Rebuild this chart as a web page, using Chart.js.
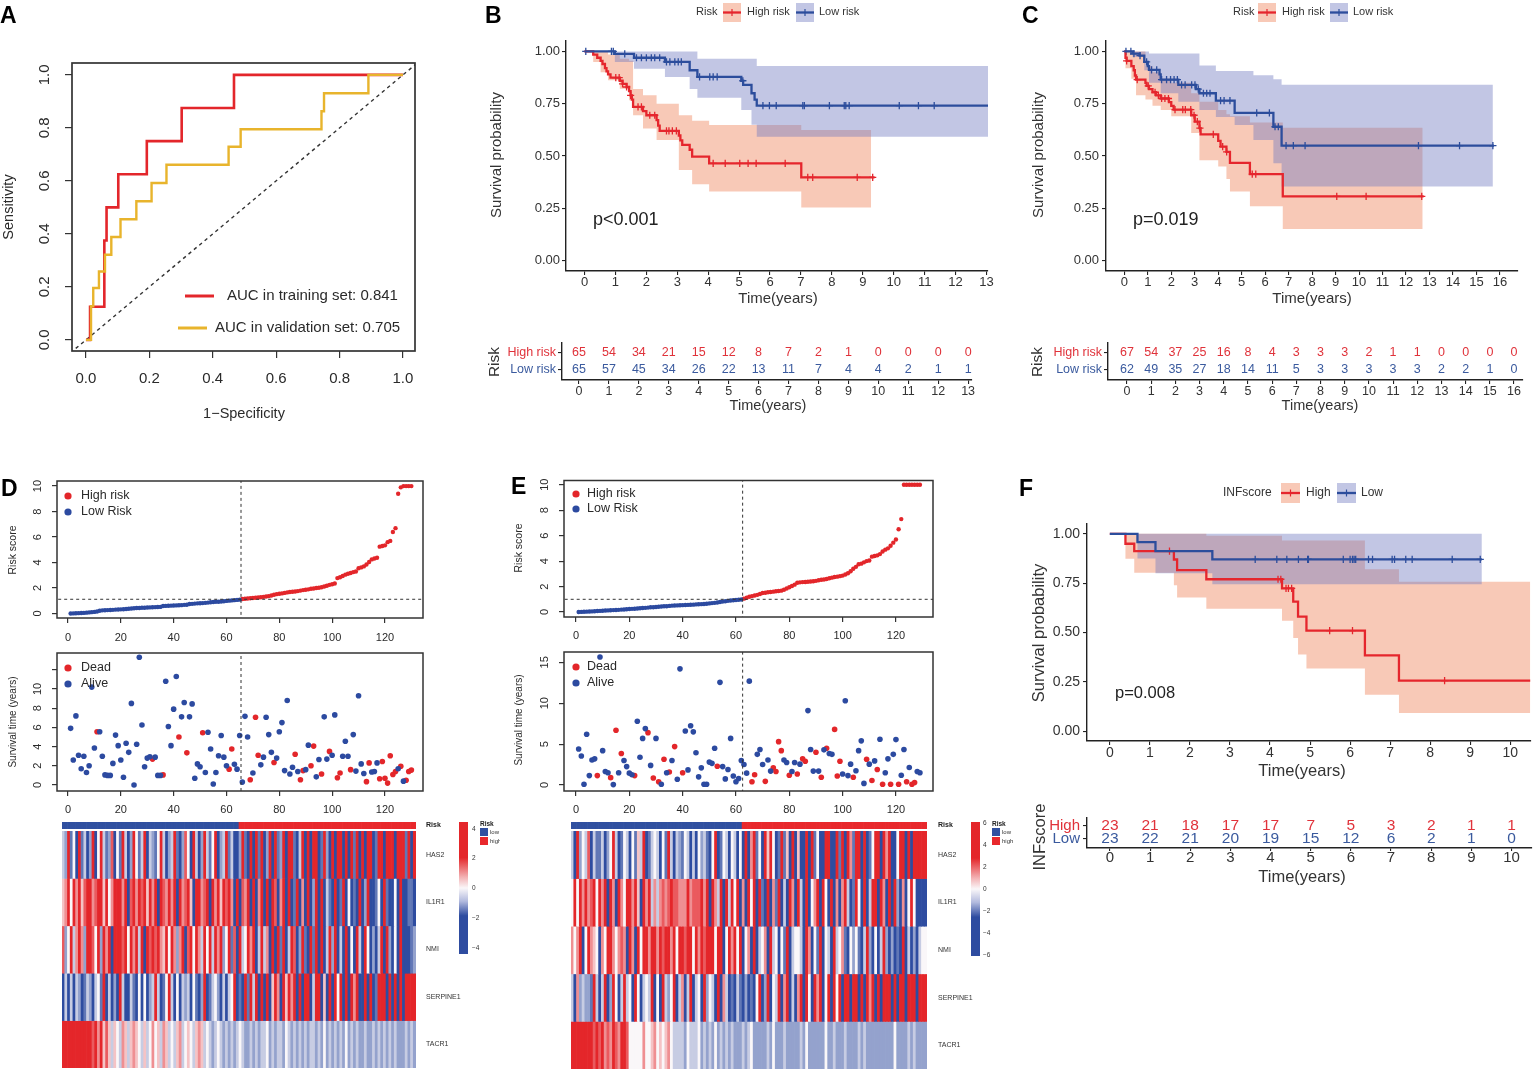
<!DOCTYPE html>
<html><head><meta charset="utf-8">
<script src="https://cdn.jsdelivr.net/npm/chart.js@4.4.1/dist/chart.umd.min.js"></script>
<style>
html,body{margin:0;padding:0;background:#fff;}
#page{position:relative;width:1536px;height:1077px;overflow:hidden;background:#fff;}
</style></head>
<body><div id="page"></div>
<script>
// ================= DATA =================
// ---- A: ROC ----
const rocTicks = [0, 0.2, 0.4, 0.6, 0.8, 1.0];
const rocTrainX = [0,0.013,0.013,0.058,0.058,0.065,0.065,0.102,0.102,0.192,0.192,0.302,0.302,0.467,0.467,1];
const rocTrainY = [0,0,0.125,0.125,0.375,0.375,0.5,0.5,0.625,0.625,0.75,0.75,0.875,0.875,1,1];
const rocValX = [0,0.016,0.016,0.023,0.023,0.041,0.041,0.06,0.06,0.08,0.08,0.109,0.109,0.159,0.159,0.207,0.207,0.254,0.254,0.45,0.45,0.488,0.488,0.743,0.743,0.751,0.751,0.891,0.891,1];
const rocValY = [0,0,0.127,0.127,0.196,0.196,0.258,0.258,0.321,0.321,0.388,0.388,0.455,0.455,0.523,0.523,0.592,0.592,0.661,0.661,0.729,0.729,0.795,0.795,0.863,0.863,0.931,0.931,1,1];
const rocDiag = [-0.1, 1.1];
const aucLabels = ['AUC in training set: 0.841', 'AUC in validation set: 0.705'];

// ---- common KM ----
const survTicks = [0, 0.25, 0.5, 0.75, 1];
const groupLabels = ['High risk', 'Low risk'];

// ---- B: training KM ----
const yearsB = [0,1,2,3,4,5,6,7,8,9,10,11,12,13];
const bHighT = [0,0.28,0.41,0.52,0.58,0.66,0.71,0.76,0.84,1.14,1.23,1.36,1.44,1.49,1.53,1.57,1.89,2.0,2.33,2.38,2.43,3.05,3.1,3.16,3.4,3.48,4.03,7.01,9.38];
const bHighS = [1,0.985,0.97,0.955,0.94,0.92,0.905,0.89,0.875,0.86,0.845,0.83,0.81,0.79,0.77,0.735,0.715,0.695,0.672,0.645,0.62,0.598,0.575,0.553,0.53,0.497,0.465,0.398,0.398];
const bHighCens = [1.01,1.12,1.23,1.36,1.49,1.73,1.84,2.11,2.27,2.65,2.73,2.84,2.97,4.16,4.55,5.02,5.29,5.55,6.49,7.22,7.38,8.82,9.32];
const bHighBandT = [0,0.28,0.52,0.76,1.14,1.44,1.57,1.89,2.33,3.05,3.48,4.03,7.01,9.27];
const bHighUp = [1,1,1,0.985,0.965,0.955,0.82,0.79,0.75,0.695,0.668,0.648,0.624,0.624];
const bHighLo = [1,0.95,0.9,0.862,0.822,0.767,0.695,0.632,0.576,0.433,0.365,0.33,0.254,0.254];
const bLowT = [0,0.98,1.6,2.6,3.4,3.65,5.07,5.13,5.4,5.5,5.57,13.05];
const bLowS = [1,0.988,0.97,0.95,0.91,0.878,0.86,0.84,0.80,0.77,0.741,0.741];
const bLowCens = [0.04,0.87,0.93,1.3,1.68,1.84,2.0,2.16,2.27,2.43,2.65,2.76,2.92,3.03,3.13,3.72,4.05,4.16,4.29,5.12,5.77,5.98,6.2,7.06,7.11,7.92,8.4,8.45,8.56,10.18,10.8,11.31];
const bLowBandT = [0,0.98,1.6,2.6,3.4,3.65,5.07,5.4,5.57,13.05];
const bLowUp = [1,1,1,1,1,0.965,0.965,0.965,0.93,0.93];
const bLowLo = [1,0.95,0.917,0.878,0.82,0.778,0.72,0.65,0.592,0.592];
const bTabHigh = [65,54,34,21,15,12,8,7,2,1,0,0,0,0];
const bTabLow = [65,57,45,34,26,22,13,11,7,4,4,2,1,1];

// ---- C: validation KM ----
const yearsC = [0,1,2,3,4,5,6,7,8,9,10,11,12,13,14,15,16];
const cHighT = [0,0.05,0.1,0.3,0.4,0.45,0.5,0.9,0.95,1.05,1.2,1.35,1.55,1.9,2.0,2.1,2.85,3.0,3.2,3.25,4.0,4.1,4.35,4.5,5.35,6.75,12.75];
const cHighS = [1,0.97,0.955,0.93,0.91,0.885,0.865,0.85,0.835,0.82,0.805,0.79,0.775,0.758,0.74,0.722,0.695,0.664,0.633,0.603,0.572,0.545,0.52,0.467,0.413,0.307,0.307];
const cHighCens = [0.1,0.55,1.02,1.31,1.45,1.59,1.73,1.88,2.16,2.49,2.6,2.83,2.97,3.11,3.22,3.79,4.19,4.36,5.45,5.6,9.05,10.3,12.67];
const cHighBandT = [0,0.05,0.3,0.5,0.9,1.2,1.55,2.0,2.85,3.2,4.0,4.35,4.5,5.35,6.75,12.71];
const cHighUp = [1,1,1,1,0.93,0.9,0.87,0.85,0.8,0.76,0.72,0.7,0.69,0.66,0.635,0.635];
const cHighLo = [1,0.92,0.87,0.79,0.77,0.74,0.72,0.69,0.61,0.48,0.45,0.39,0.33,0.26,0.151,0.151];
const cLowT = [0,0.35,0.65,0.85,1.0,1.05,1.5,1.55,2.3,3.05,3.2,3.9,4.7,6.35,6.7,15.75];
const cLowS = [1,0.99,0.98,0.95,0.93,0.912,0.89,0.865,0.84,0.82,0.80,0.765,0.706,0.64,0.55,0.55];
const cLowCens = [0.07,0.28,0.41,0.67,0.95,1.16,1.38,1.59,1.8,1.97,2.12,2.26,2.44,2.59,2.87,3.01,3.15,3.37,3.51,3.65,4.1,4.25,4.5,5.64,6.18,6.42,6.56,6.89,7.2,7.7,12.53,14.28,15.7];
const cLowBandT = [0,0.35,0.85,1.05,1.55,2.3,3.2,3.9,4.7,5.5,6.35,6.7,15.7];
const cLowUp = [1,1,1,0.99,0.99,0.99,0.933,0.906,0.906,0.886,0.867,0.841,0.841];
const cLowLo = [1,0.975,0.91,0.85,0.80,0.76,0.72,0.687,0.648,0.576,0.465,0.354,0.354];
const cTabHigh = [67,54,37,25,16,8,4,3,3,3,2,1,1,0,0,0,0];
const cTabLow = [62,49,35,27,18,14,11,5,3,3,3,3,3,2,2,1,0];

// ---- F: INFscore KM ----
const yearsF = [0,1,2,3,4,5,6,7,8,9,10];
const fLabels = ['High', 'Low'];
const fHighT = [0,0.39,0.61,1.6,1.68,2.41,4.3,4.58,4.7,4.91,6.37,7.22,10.5];
const fHighS = [1,0.95,0.913,0.87,0.816,0.77,0.724,0.657,0.58,0.51,0.384,0.256,0.256];
const fHighCens = [1.49,4.2,4.27,4.4,4.46,4.54,5.49,6.06,8.36];
const fHighBandT = [0,0.39,0.61,1.6,1.68,2.41,4.3,4.58,4.7,4.91,6.37,7.22,10.5];
const fHighUp = [1,1,1,1,1,0.99,0.966,0.966,0.966,0.966,0.82,0.757,0.757];
const fHighLo = [1,0.874,0.803,0.74,0.678,0.62,0.56,0.472,0.389,0.317,0.184,0.092,0.092];
const fLowT = [0,0.69,1.14,2.56,9.29];
const fLowS = [1,0.958,0.913,0.871,0.871];
const fLowCens = [3.63,4.17,4.42,4.71,4.94,4.96,5.83,6.0,6.06,6.1,6.14,6.46,6.56,7.05,7.11,7.39,7.55,8.55,9.25];
const fLowBandT = [0,0.69,1.14,2.56,9.29];
const fLowUp = [1,1,1,1,1];
const fLowLo = [1,0.875,0.80,0.745,0.745];
const fTabHigh = [23,21,18,17,17,7,5,3,2,1,1];
const fTabLow = [23,22,21,20,19,15,12,6,2,1,0];

// ---- D / E: risk plots ----
const sampleTicks = [0,20,40,60,80,100,120];
const nLowD = 65, nLowE = 62;
const cutD = 1.12, cutE = 1.0;
const riskD = [0.0,0.01,0.02,0.03,0.04,0.05,0.07,0.09,0.11,0.13, 0.16,0.22,0.25,0.26,0.27,0.28,0.29,0.31,0.32,0.33,
 0.34,0.36,0.38,0.39,0.41,0.43,0.44,0.45,0.46,0.47, 0.48,0.49,0.5,0.51,0.52,0.59,0.6,0.61,0.62,0.63,
 0.64,0.65,0.66,0.68,0.69,0.75,0.76,0.78,0.8,0.81, 0.82,0.84,0.86,0.88,0.9,0.92,0.93,0.95,0.97,0.99,
 1.01,1.03,1.05,1.07,1.09,1.14,1.16,1.18,1.2,1.22, 1.24,1.26,1.28,1.31,1.34,1.37,1.42,1.48,1.52,1.55,
 1.58,1.62,1.66,1.69,1.71,1.73,1.76,1.8,1.84,1.87, 1.9,1.94,1.97,2.0,2.02,2.06,2.12,2.18,2.25,2.3,
 2.36,2.78,2.85,2.95,3.05,3.12,3.18,3.25,3.3,3.55, 3.62,3.7,3.85,4.05,4.25,4.32,4.38,5.25,5.3,5.35,
 5.6,5.7,6.4,6.7,9.4,9.9,10.0,10.0,10.0,10.0];
const riskE = [0.0,0.01,0.02,0.03,0.04,0.05,0.06,0.08,0.09,0.1, 0.12,0.13,0.14,0.15,0.16,0.17,0.19,0.2,0.22,0.24,
 0.25,0.26,0.28,0.3,0.32,0.33,0.35,0.37,0.38,0.4, 0.41,0.43,0.45,0.46,0.48,0.5,0.51,0.52,0.53,0.54,
 0.55,0.56,0.57,0.58,0.6,0.61,0.62,0.63,0.65,0.68, 0.7,0.72,0.75,0.79,0.82,0.85,0.88,0.9,0.93,0.95,
 0.97,0.99,1.05,1.12,1.2,1.25,1.3,1.35,1.42,1.5, 1.52,1.55,1.57,1.6,1.63,1.65,1.68,1.75,1.85,1.95,
 2.05,2.15,2.3,2.33,2.35,2.36,2.38,2.4,2.42,2.45, 2.5,2.53,2.56,2.6,2.65,2.7,2.75,2.78,2.82,2.86,
 2.95,3.05,3.2,3.4,3.55,3.75,3.8,3.9,4.0,4.05, 4.35,4.4,4.45,4.55,4.75,4.9,5.0,5.2,5.45,5.7,
 6.5,7.3,10,10,10,10,10,10,10];
const timeD = [5.9,2.6,7.2,3.1,1.7,3.0,1.3,2.0,10.2,3.85, 5.55,5.55,3.0,1.05,1.0,1.0,2.25,5.2,4.1,2.6,
 0.8,4.35,3.4,8.5,0.0,4.25,13.3,6.25,1.9,2.8, 2.95,2.7,2.9,1.0,1.0,1.05,10.8,6.1,4.1,7.9,
 11.3,5.0,7.1,8.6,3.35,7.1,8.45,0.7,2.2,1.9, 5.45,1.3,5.5,3.75,0.1,1.3,3.05,5.15,2.9,2.0,
 1.65,3.75,2.15,1.65,5.15,0.3,7.15,5.0,0.55,1.25, 7.05,3.1,2.1,2.9,7.05,5.25,3.4,2.35,2.8,5.55,
 6.5,1.5,8.8,1.15,1.85,3.2,1.4,0.55,1.5,1.6, 4.15,2.0,4.05,0.85,2.65,1.15,7.1,2.7,3.5,3.1,
 7.3,0.75,1.25,3.0,4.55,3.0,1.6,5.25,1.45,9.3, 2.2,1.2,0.35,2.3,1.35,1.4,2.3,0.65,2.45,0.7,
 0.2,3.05,1.1,1.4,1.7,1.95,0.4,0.5,1.4,1.55];
const statusD = "aaaaaaaaaa daaaaaaaaa aaaaaaaaaa adaaadaaaa adaadaaaaa daaaaaaaaa ddaaaaaada ddaaaaadaa aaaaadadda addaadaada addaaadaaa aaddaaaddd ddddadaddd".replace(/ /g,'');
const timeE = [4.4,3.55,0.1,6.2,1.15,3.05,3.2,1.15,15.65,4.2, 1.65,1.5,0.9,0.05,6.7,1.5,3.85,3.0,2.25,1.45,
 1.25,1.15,7.8,3.4,5.7,6.9,6.4,2.4,0.85,5.7, 0.4,0.1,3.15,1.5,1.6,3.0,4.7,0.7,14.2,1.5,
 6.6,1.85,7.25,6.5,3.95,1.0,2.1,0.1,0.1,2.8, 2.65,4.5,2.3,12.55,2.25,0.75,1.9,5.7,1.1,0.4,
 0.8,3.0,2.5,1.45,12.7,0.4,1.25,3.75,4.35,2.5, 0.45,3.05,1.7,2.1,1.65,5.3,4.2,3.05,2.75,1.2,
 1.65,2.75,1.35,2.55,3.2,2.9,9.1,4.35,1.7,4.0, 1.7,0.95,4.3,4.5,3.85,3.75,6.8,1.1,2.9,1.35,
 10.3,1.15,2.55,0.95,1.75,4.2,5.4,0.2,3.15,2.55, 0.55,2.95,1.9,5.6,0.1,1.5,3.2,0.1,3.75,5.55,
 0.1,1.2,4.35,0.4,2.15,0.1,0.3,1.65,1.5];
const statusE = "aaaaaaadaa aadadadaaa adaaaadada dadadadaad aaaaaaaaaa aadaaaaaaa aaaaaddaaa daaddddaad aadaddaaad adadaaddda aaadaaaada dadadaadaa daadaddaa".replace(/ /g,'');

// ---- D / E: heatmaps (expression level codes 0..8, 4 = 0) ----
const genes = ['HAS2','IL1R1','NMI','SERPINE1','TACR1'];
const hmD = [
 "3281408130 2804831270 4183028413 8032148302 3810274083 0283148023 8130028108 0818028081 2808810380 8088018208 0880808180 8088018808 8808881808",
 "5684868578 8678858468 8868078687 8586808768 6808678508 8678086858 7860807680 8068080870 6808018060 8028080310 8018040108 0280014081 0040800110",
 "7248368628 8748286808 8878486838 0878786584 8626807848 6384838682 4817083486 8038360808 1803870281 0818080382 8030804083 0840203808 2040800012",
 "0303032013 2034180302 0830031040 4023830148 3040323041 0280134203 0348010818 3808080586 0858680808 8038805080 8480808680 0808018880 8080808888",
 "8888888888 8786857535 4365356543 5346453653 4356345435 6534323432 3232343223 2323342323 3243232323 2332324232 3232423232 2322323232 3232223232"
].map(s => s.replace(/ /g,''));
const hmE = [
 "3082437031 1302483014 3041538013 4304183032 1430304231 0480143043 0408068140 8584018150 8050080814 0088008180 8618808014 8808680048 808088888",
 "4848686784 8680860864 8868508683 6367678776 6686777868 0863808384 8060848081 0806180308 6083080468 0840806068 3018408038 8086080820 604840000",
 "6468048654 0648864676 0860848868 8687886848 8788486878 8848804868 4804608034 6083404180 3443086041 8043083461 0424103820 4038202010 803020344",
 "3062322183 0380284038 3408403438 0408324803 6038034082 4308063010 3102010480 2804380680 3068084086 8048084808 8088080868 0808880808 808880888",
 "8888888878 7867687688 7444446445 6454564333 3243334232 3242323232 2232342222 2324222322 2223242222 2242232223 2222323222 2222222422 223232222"
].map(s => s.replace(/ /g,''));
const cbarD = [4,2,0,-2,-4];
const cbarE = [6,4,2,0,-2,-4,-6];

// ================= STYLE / HELPERS =================
const FONT = '"Liberation Sans", Arial, Helvetica, sans-serif';
const INK = '#2a2a2a';
const COL = {
  kmRed:'#E5262D', kmBlue:'#2C4D9C',
  redBand:'rgba(240,135,95,0.45)', blueBand:'rgba(110,120,190,0.42)',
  dotRed:'#E3262A', dotBlue:'#2C4AA0',
  roc1:'#E3262B', roc2:'#E8B42C',
  annLow:'#3050A0', annHigh:'#E8282C'
};
const HM_LO=[46,76,160], HM_MID=[250,247,249], HM_HI=[228,38,42];
function levelColor(l){
  const v=(l-4)/4, a=v<0?HM_LO:HM_HI, t=Math.abs(v);
  const c=HM_MID.map((m,k)=>Math.round(m+(a[k]-m)*t));
  return 'rgb('+c.join(',')+')';
}
Chart.defaults.font.family = FONT;
const page = document.getElementById('page');
let pluginId = 0;

function mk(box, area, cfg, draw){
  const [bx,by,bw,bh]=box, [L,T,R,B]=area;
  const d=document.createElement('div');
  d.style.cssText='position:absolute;left:'+bx+'px;top:'+by+'px;width:'+bw+'px;height:'+bh+'px;';
  const cv=document.createElement('canvas'); d.appendChild(cv); page.appendChild(d);
  const o=cfg.options=cfg.options||{};
  Object.assign(o,{responsive:true,maintainAspectRatio:false,animation:false,events:[]});
  const sides={left:L-bx,top:T-by,right:bx+bw-R,bottom:by+bh-B};
  const pad=Object.assign({},sides);
  Object.values(o.scales||{}).forEach(s=>{
    if(s.display===false) return;
    const pos=s.position; pad[pos]=0;
    s.afterFit=sc=>{ if(sc.isHorizontal()) sc.height=sides[pos]; else sc.width=sides[pos]; };
  });
  o.layout={padding:pad};
  o.plugins=Object.assign({legend:{display:false},tooltip:{enabled:false},title:{display:false}},o.plugins||{});
  cfg.plugins=[{id:'deco'+(pluginId++),afterDraw(ch){ if(!draw) return; const ctx=ch.ctx; ctx.save(); ctx.translate(-bx,-by); draw(ctx,ch,bx,by); ctx.restore(); }}];
  return new Chart(cv,cfg);
}
function txt(ctx,s,x,y,size,o){
  o=o||{}; ctx.save();
  ctx.font=(o.bold?'bold ':'')+size+'px '+FONT;
  ctx.fillStyle=o.color||INK; ctx.textAlign=o.align||'left'; ctx.textBaseline='middle';
  ctx.translate(x,y); if(o.rot) ctx.rotate(o.rot*Math.PI/180);
  ctx.fillText(s,0,0); ctx.restore();
}
function seg(ctx,x1,y1,x2,y2,c,w){ ctx.save(); ctx.strokeStyle=c; ctx.lineWidth=w; ctx.beginPath(); ctx.moveTo(x1,y1); ctx.lineTo(x2,y2); ctx.stroke(); ctx.restore(); }
function dot(ctx,x,y,r,c){ ctx.save(); ctx.fillStyle=c; ctx.beginPath(); ctx.arc(x,y,r,0,Math.PI*2); ctx.fill(); ctx.restore(); }
function frame(ctx,ch,bx,by,w){ const a=ch.chartArea; ctx.save(); ctx.strokeStyle='#333'; ctx.lineWidth=w||1.5; ctx.strokeRect(a.left+bx,a.top+by,a.right-a.left,a.bottom-a.top); ctx.restore(); }
function swatch(ctx,x,y,w,h,lc,fc){
  ctx.save(); ctx.fillStyle=fc; ctx.fillRect(x,y,w,h); ctx.restore();
  seg(ctx,x,y+h/2,x+w,y+h/2,lc,2.3); seg(ctx,x+w/2,y+h/2-3.5,x+w/2,y+h/2+3.5,lc,1.2);
}
function ticksFrom(arr){ return s=>{ s.ticks=arr.map(v=>({value:v})); }; }

// R-style axes
function rX(min,max,ticks,fs,pad,fmt,tl){
  return {type:'linear',position:'bottom',min,max,afterBuildTicks:ticksFrom(ticks),
    grid:{drawOnChartArea:false,drawTicks:true,tickLength:tl,color:'#333',lineWidth:1.2},
    border:{display:false},
    ticks:{autoSkip:false,maxRotation:0,minRotation:0,padding:pad,color:INK,font:{family:FONT,size:fs},callback:v=>fmt(v)}};
}
function rY(min,max,ticks,fs,pad,fmt,tl){
  return {type:'linear',position:'left',min,max,afterBuildTicks:ticksFrom(ticks),
    grid:{drawOnChartArea:false,drawTicks:true,tickLength:tl,color:'#333',lineWidth:1.2},
    border:{display:false},
    ticks:{autoSkip:false,minRotation:90,maxRotation:90,crossAlign:'center',padding:pad,color:INK,font:{family:FONT,size:fs},callback:v=>fmt(v)}};
}
// ggplot-style axes
function gX(min,max,ticks,fs,pad,fmt,tl){
  return {type:'linear',position:'bottom',min,max,afterBuildTicks:ticksFrom(ticks),
    grid:{drawOnChartArea:false,drawTicks:true,tickLength:tl||4,color:'#222',lineWidth:1.1},
    border:{display:true,color:'#222',width:1.4},
    ticks:{autoSkip:false,maxRotation:0,minRotation:0,padding:pad,color:'#333',font:{family:FONT,size:fs},callback:v=>fmt(v)}};
}
function gY(min,max,ticks,fs,pad,fmt,tl,color){
  return {type:'linear',position:'left',min,max,afterBuildTicks:ticksFrom(ticks),
    grid:{drawOnChartArea:false,drawTicks:true,tickLength:tl||4,color:'#222',lineWidth:1.1},
    border:{display:true,color:'#222',width:1.4},
    ticks:{autoSkip:false,padding:pad,color:color||'#333',font:{family:FONT,size:fs},callback:v=>fmt(v)}};
}

// KM helpers
function pts(X,Y){ return X.map((x,i)=>({x,y:Y[i]})); }
function survAt(T,S,t){ let v=S[0]; for(let i=0;i<T.length;i++){ if(T[i]<=t) v=S[i]; } return v; }
function kmDatasets(groups){
  const ds=[];
  groups.forEach(g=>ds.push({data:pts(g.T,g.S),borderColor:g.color,borderWidth:2.3,stepped:true,pointRadius:0,fill:false}));
  groups.forEach(g=>ds.push({data:g.cens.map(t=>({x:t,y:survAt(g.T,g.S,t)})),showLine:false,pointStyle:'cross',pointRadius:3.6,pointBorderColor:g.color,pointBackgroundColor:g.color,pointBorderWidth:1.3}));
  groups.forEach(g=>{
    ds.push({data:pts(g.bT,g.up),stepped:true,borderWidth:0,pointRadius:0,fill:'+1',backgroundColor:g.band});
    ds.push({data:pts(g.bT,g.lo),stepped:true,borderWidth:0,pointRadius:0,fill:false});
  });
  return ds;
}
function kmChart(box,area,xr,years,groups,fs,padX,padY,draw){
  return mk(box,area,{type:'line',data:{datasets:kmDatasets(groups)},options:{scales:{
    x:gX(xr[0],xr[1],years,fs,padX,v=>String(v)),
    y:gY(-0.05,1.05,survTicks,fs,padY,v=>v.toFixed(2))}}},draw);
}
function tableChart(box,area,xr,yr,years,rows,fs,fsNum,padX,padY,tl,draw){
  const ds=rows.map(r=>({data:years.map(t=>({x:t,y:r.y})),nums:r.nums,numColor:r.color,showLine:false,pointRadius:0}));
  const lab=v=>{ const r=rows.find(q=>q.y===v); return r?r.label:''; };
  const colr=c=>{ const r=(c&&c.tick)?rows.find(q=>q.y===c.tick.value):null; return r?r.color:'#333'; };
  return mk(box,area,{type:'line',data:{datasets:ds},options:{scales:{
    x:gX(xr[0],xr[1],years,fs,padX,v=>String(v),tl),
    y:gY(yr[0],yr[1],rows.map(r=>r.y),fs,padY,lab,4,colr)}}},
    (ctx,ch,bx,by)=>{
      ch.data.datasets.forEach((d,i)=>{ ch.getDatasetMeta(i).data.forEach((p,j)=>txt(ctx,String(d.nums[j]),p.x+bx,p.y+by,fsNum,{align:'center',color:d.numColor})); });
      draw(ctx,ch,bx,by);
    });
}
function rScatter(box,area,xr,yr,yTicks,fmtY,sets,vx,hy,padXl,draw){
  const ds=[];
  if(hy!==null) ds.push({data:[{x:xr[0]-20,y:hy},{x:xr[1]+20,y:hy}],borderColor:'#333',borderWidth:1,borderDash:[3,3],pointRadius:0});
  ds.push({data:[{x:vx,y:yr[0]-20},{x:vx,y:yr[1]+20}],borderColor:'#333',borderWidth:1,borderDash:[3,3],pointRadius:0});
  sets.forEach(s=>ds.push({data:s.pts,showLine:false,pointRadius:s.r,pointBackgroundColor:s.color,pointBorderColor:s.color,pointBorderWidth:0}));
  return mk(box,area,{type:'line',data:{datasets:ds},options:{scales:{
    x:rX(xr[0],xr[1],sampleTicks,11,padXl,v=>String(v),5),
    y:rY(yr[0],yr[1],yTicks,11,7.9,fmtY,5)}}},draw);
}
function heatChart(box,area,rows,fs,pad,draw){
  const labels=rows[0].split('').map((_,i)=>i+1);
  const ds=rows.map((r,gi)=>({data:r.split('').map(()=>[gi,gi+1]),backgroundColor:r.split('').map(c=>levelColor(+c)),borderWidth:0,grouped:false,barPercentage:1,categoryPercentage:1}));
  return mk(box,area,{type:'bar',data:{labels,datasets:ds},options:{scales:{
    x:{type:'category',display:false},
    y:{type:'linear',min:0,max:rows.length,reverse:true,position:'right',afterBuildTicks:ticksFrom(genes.map((g,i)=>i+0.5)),
       grid:{display:false},border:{display:false},
       ticks:{autoSkip:false,padding:pad,color:'#333',font:{family:FONT,size:fs},callback:(v,i)=>genes[i]}}}}},draw);
}
function riskBar(box,area,n,nLow,pad){
  const labels=[]; const cols=[]; const data=[];
  for(let i=0;i<n;i++){ labels.push(i+1); cols.push(i<nLow?COL.annLow:COL.annHigh); data.push([0,1]); }
  return mk(box,area,{type:'bar',data:{labels,datasets:[{data,backgroundColor:cols,borderWidth:0,barPercentage:1,categoryPercentage:1}]},options:{scales:{
    x:{type:'category',display:false},
    y:{type:'linear',min:0,max:1,position:'right',afterBuildTicks:ticksFrom([0.5]),grid:{display:false},border:{display:false},
       ticks:{padding:pad,color:'#222',font:{family:FONT,size:7,weight:'bold'},callback:()=>'Risk'}}}}});
}
function colorBar(ctx,x,y,w,h,labels,labY,lx){
  const g=ctx.createLinearGradient(0,y,0,y+h);
  g.addColorStop(0,'rgb(228,38,42)'); g.addColorStop(0.27,'rgb(228,38,42)');
  g.addColorStop(0.42,'rgb(243,180,182)'); g.addColorStop(0.5,'rgb(250,247,249)');
  g.addColorStop(0.6,'rgb(178,186,222)'); g.addColorStop(0.71,'rgb(46,76,160)'); g.addColorStop(1,'rgb(46,76,160)');
  ctx.save(); ctx.fillStyle=g; ctx.fillRect(x,y,w,h); ctx.restore();
  labels.forEach((v,i)=>txt(ctx,(v<0?'\u2212':'')+Math.abs(v),lx,labY[i],6.5,{color:'#333'}));
}
function annLegend(ctx,x,y){
  txt(ctx,'Risk',x,y,6.5,{bold:true,color:'#222'});
  ctx.save(); ctx.fillStyle=COL.annLow; ctx.fillRect(x,y+4,8,8); ctx.fillStyle=COL.annHigh; ctx.fillRect(x,y+13,8,8); ctx.restore();
  txt(ctx,'low',x+10,y+8,6,{color:'#333'}); txt(ctx,'high',x+10,y+17,6,{color:'#333'});
}

// ================= PANEL A =================
mk([0,0,480,440],[72,63,415,351],{type:'line',data:{datasets:[
  {data:pts(rocValX,rocValY),borderColor:COL.roc2,borderWidth:2.4,pointRadius:0},
  {data:pts(rocTrainX,rocTrainY),borderColor:COL.roc1,borderWidth:2.6,pointRadius:0},
  {data:rocDiag.map(v=>({x:v,y:v})),borderColor:'#333',borderWidth:1.4,borderDash:[3.5,3.5],pointRadius:0}
]},options:{scales:{
  x:rX(-0.044,1.038,rocTicks,15,12,v=>v.toFixed(1),7),
  y:rY(-0.042,1.045,rocTicks,15,9.6,v=>v.toFixed(1),7)}}},
(ctx,ch,bx,by)=>{
  frame(ctx,ch,bx,by,1.7);
  txt(ctx,'A',0,17,23,{bold:true,color:'#000'});
  seg(ctx,185,296,214,296,COL.roc1,3); txt(ctx,aucLabels[0],227,296,15);
  seg(ctx,178,328,207,328,COL.roc2,3); txt(ctx,aucLabels[1],215,328,15);
  txt(ctx,'1\u2212Specificity',244,414,14.5,{align:'center'});
  txt(ctx,'Sensitivity',9,207,14.5,{align:'center',rot:-90});
});

// ================= PANEL B =================
kmChart([480,0,528,320],[566,41,988,271],[-0.6,13.05],yearsB,[
  {T:bLowT,S:bLowS,cens:bLowCens,bT:bLowBandT,up:bLowUp,lo:bLowLo,color:COL.kmBlue,band:COL.blueBand},
  {T:bHighT,S:bHighS,cens:bHighCens,bT:bHighBandT,up:bHighUp,lo:bHighLo,color:COL.kmRed,band:COL.redBand}
],13,0,2,(ctx)=>{
  txt(ctx,'B',485,17,23,{bold:true,color:'#000'});
  txt(ctx,'Risk',696,12,11,{color:'#333'});
  swatch(ctx,723,3,18,19,COL.kmRed,COL.redBand); txt(ctx,groupLabels[0],747,12,11,{color:'#333'});
  swatch(ctx,796,3,18,19,COL.kmBlue,COL.blueBand); txt(ctx,groupLabels[1],819,12,11,{color:'#333'});
  txt(ctx,'Survival probability',497,155,15,{align:'center',rot:-90,color:'#333'});
  txt(ctx,'Time(years)',778,299,15,{align:'center',color:'#333'});
  txt(ctx,'p<0.001',593,220,18,{color:'#222'});
});
tableChart([480,320,520,100],[562,343,972,380],[-0.568,13.13],[-0.588,1.588],yearsB,[
  {y:1,label:groupLabels[0],nums:bTabHigh,color:'#E0323A'},
  {y:0,label:groupLabels[1],nums:bTabLow,color:'#3A5A9E'}
],12.5,12.5,0,2,4,(ctx)=>{
  txt(ctx,'Risk',495,362,15.5,{align:'center',rot:-90,color:'#333'});
  txt(ctx,'Time(years)',768,406,14.5,{align:'center',color:'#333'});
});

// ================= PANEL C =================
kmChart([1008,0,528,320],[1106,41,1518,271],[-0.78,16.77],yearsC,[
  {T:cLowT,S:cLowS,cens:cLowCens,bT:cLowBandT,up:cLowUp,lo:cLowLo,color:COL.kmBlue,band:COL.blueBand},
  {T:cHighT,S:cHighS,cens:cHighCens,bT:cHighBandT,up:cHighUp,lo:cHighLo,color:COL.kmRed,band:COL.redBand}
],13,0,3,(ctx)=>{
  txt(ctx,'C',1022,17,23,{bold:true,color:'#000'});
  txt(ctx,'Risk',1233,12,11,{color:'#333'});
  swatch(ctx,1258,3,18,19,COL.kmRed,COL.redBand); txt(ctx,groupLabels[0],1282,12,11,{color:'#333'});
  swatch(ctx,1330,3,18,19,COL.kmBlue,COL.blueBand); txt(ctx,groupLabels[1],1353,12,11,{color:'#333'});
  txt(ctx,'Survival probability',1039,155,15,{align:'center',rot:-90,color:'#333'});
  txt(ctx,'Time(years)',1312,299,15,{align:'center',color:'#333'});
  txt(ctx,'p=0.019',1133,220,18,{color:'#222'});
});
tableChart([1008,320,528,100],[1108,343,1523,380],[-0.785,16.37],[-0.588,1.588],yearsC,[
  {y:1,label:groupLabels[0],nums:cTabHigh,color:'#E0323A'},
  {y:0,label:groupLabels[1],nums:cTabLow,color:'#3A5A9E'}
],12.5,12.5,0,2,4,(ctx)=>{
  txt(ctx,'Risk',1038,362,15.5,{align:'center',rot:-90,color:'#333'});
  txt(ctx,'Time(years)',1320,406,14.5,{align:'center',color:'#333'});
});

// ================= PANEL F =================
kmChart([1008,470,528,320],[1087,524,1532,741],[-0.57,10.51],yearsF,[
  {T:fLowT,S:fLowS,cens:fLowCens,bT:fLowBandT,up:fLowUp,lo:fLowLo,color:COL.kmBlue,band:COL.blueBand},
  {T:fHighT,S:fHighS,cens:fHighCens,bT:fHighBandT,up:fHighUp,lo:fHighLo,color:COL.kmRed,band:COL.redBand}
],14,0,3,(ctx)=>{
  txt(ctx,'F',1019,490,23,{bold:true,color:'#000'});
  txt(ctx,'INFscore',1223,493,12,{color:'#333'});
  swatch(ctx,1281,483,19,20,COL.kmRed,COL.redBand); txt(ctx,fLabels[0],1306,493,12,{color:'#333'});
  swatch(ctx,1337,483,19,20,COL.kmBlue,COL.blueBand); txt(ctx,fLabels[1],1361,493,12,{color:'#333'});
  txt(ctx,'Survival probability',1039,633,16.5,{align:'center',rot:-90,color:'#333'});
  txt(ctx,'Time(years)',1302,771,16.5,{align:'center',color:'#333'});
  txt(ctx,'p=0.008',1115,693,16.5,{color:'#222'});
});
tableChart([1008,790,528,100],[1087,818,1532,848],[-0.57,10.51],[-0.69,1.615],yearsF,[
  {y:1,label:fLabels[0],nums:fTabHigh,color:'#E0323A'},
  {y:0,label:fLabels[1],nums:fTabLow,color:'#3A5A9E'}
],15,15.5,-2,3,3,(ctx)=>{
  txt(ctx,'INFscore',1040,837,16.5,{align:'center',rot:-90,color:'#333'});
  txt(ctx,'Time(years)',1302,877,16.5,{align:'center',color:'#333'});
});

// ================= PANEL D =================
function riskSets(risk,nLow){
  return [
    {pts:risk.slice(0,nLow).map((v,i)=>({x:i+1,y:v})),color:COL.dotBlue,r:2.2},
    {pts:risk.slice(nLow).map((v,i)=>({x:nLow+i+1,y:v})),color:COL.dotRed,r:2.2}];
}
function survSets(time,status){
  const dead=[], alive=[];
  time.forEach((v,i)=>{ (status[i]==='d'?dead:alive).push({x:i+1,y:v}); });
  return [{pts:alive,color:COL.dotBlue,r:2.8},{pts:dead,color:COL.dotRed,r:2.8}];
}
rScatter([0,466,500,180],[57,481,423,618],[-4.16,134.4],[-0.35,10.4],[0,2,4,6,8,10],v=>String(v),riskSets(riskD,nLowD),nLowD+0.5,cutD,8.4,
(ctx,ch,bx,by)=>{
  frame(ctx,ch,bx,by,1.5);
  txt(ctx,'D',1,490,23,{bold:true,color:'#000'});
  dot(ctx,68,496,3.6,COL.dotRed); txt(ctx,'High risk',81,496,12.5);
  dot(ctx,68,512,3.6,COL.dotBlue); txt(ctx,'Low Risk',81,512,12.5);
  txt(ctx,'Risk score',13,550,10.5,{align:'center',rot:-90});
});
rScatter([0,636,500,190],[57,653,423,791],[-4.16,134.4],[-0.625,13.75],[0,2,4,6,8,10,12],v=>v===12?'':String(v),survSets(timeD,statusD),nLowD+0.5,null,7,
(ctx,ch,bx,by)=>{
  frame(ctx,ch,bx,by,1.5);
  dot(ctx,68,668,3.6,COL.dotRed); txt(ctx,'Dead',81,668,12.5);
  dot(ctx,68,684,3.6,COL.dotBlue); txt(ctx,'Alive',81,684,12.5);
  txt(ctx,'Survival time (years)',13,722,10,{align:'center',rot:-90});
});
riskBar([0,812,500,25],[62,822,416,829],riskD.length,nLowD,2);
heatChart([0,812,500,265],[62,831,416,1068],hmD,7,2,(ctx)=>{
  colorBar(ctx,459,822,9,132,cbarD,[829,858,888,918,948],472);
  annLegend(ctx,480,824);
});

// ================= PANEL E =================
rScatter([500,466,500,180],[564,479,933,617],[-4.5,133.9],[-0.39,10.33],[0,2,4,6,8,10],v=>String(v),riskSets(riskE,nLowE),nLowE+0.5,cutE,7.4,
(ctx,ch,bx,by)=>{
  frame(ctx,ch,bx,by,1.5);
  txt(ctx,'E',511,488,23,{bold:true,color:'#000'});
  dot(ctx,576,494,3.6,COL.dotRed); txt(ctx,'High risk',587,494,12.5);
  dot(ctx,576,509,3.6,COL.dotBlue); txt(ctx,'Low Risk',587,509,12.5);
  txt(ctx,'Risk score',519,548,10.5,{align:'center',rot:-90});
});
rScatter([500,636,500,190],[564,652,933,791],[-4.5,133.9],[-0.73,16.26],[0,5,10,15],v=>String(v),survSets(timeE,statusE),nLowE+0.5,null,7,
(ctx,ch,bx,by)=>{
  frame(ctx,ch,bx,by,1.5);
  dot(ctx,576,667,3.6,COL.dotRed); txt(ctx,'Dead',587,667,12.5);
  dot(ctx,576,683,3.6,COL.dotBlue); txt(ctx,'Alive',587,683,12.5);
  txt(ctx,'Survival time (years)',519,720,10,{align:'center',rot:-90});
});
riskBar([500,812,520,25],[571,822,927,829],riskE.length,nLowE,3);
heatChart([500,812,536,265],[571,831,927,1069],hmE,7,3,(ctx)=>{
  colorBar(ctx,971,822,9,134,cbarE,[823,845,867,889,911,933,955],983);
  annLegend(ctx,992,824);
});
</script>
</body></html>
